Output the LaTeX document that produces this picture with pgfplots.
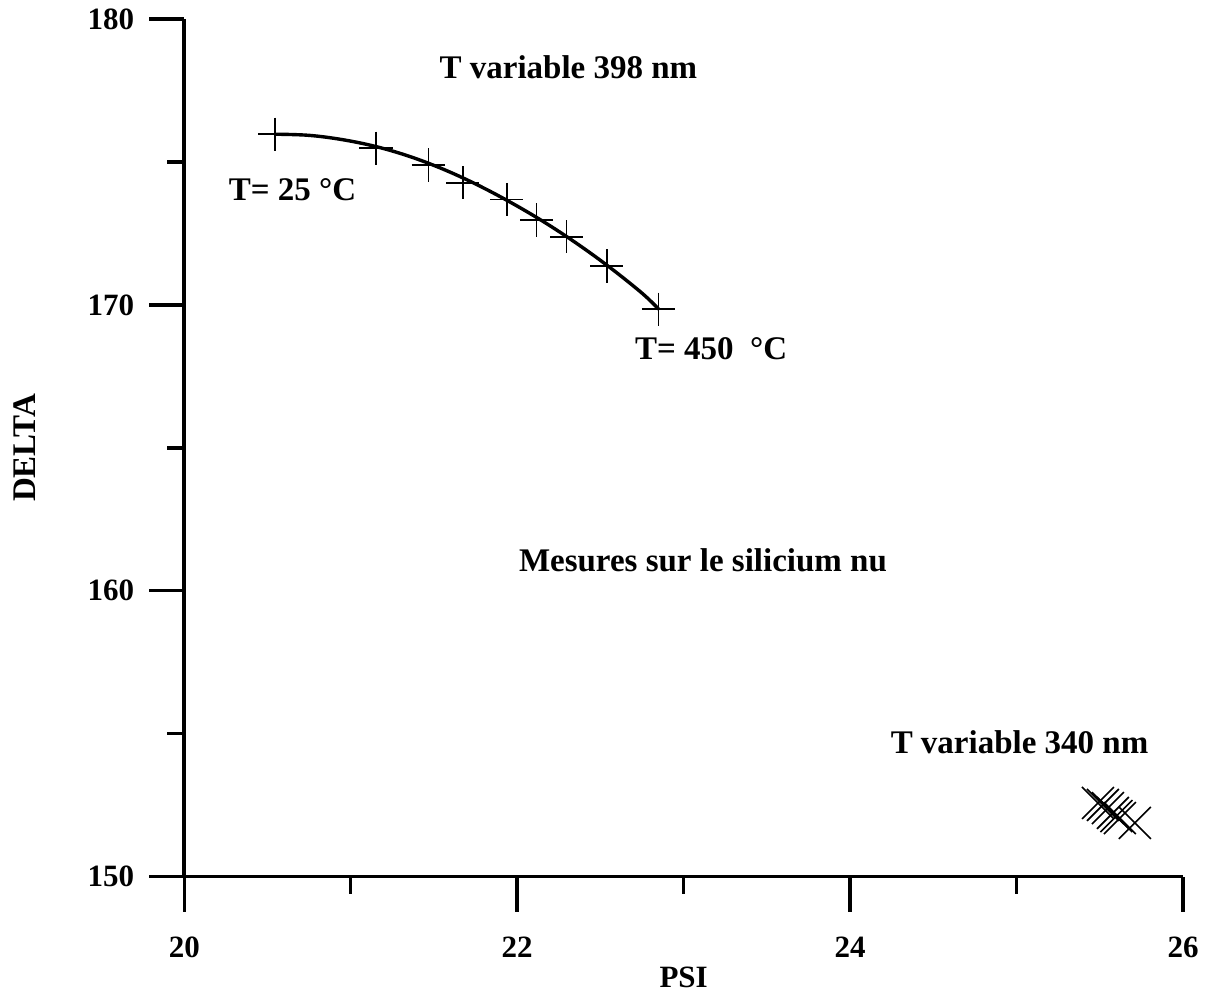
\documentclass[border=0pt]{standalone}
\usepackage{fontspec}
\setmainfont{Liberation Serif}
\usepackage{pgfplots}
\pgfplotsset{compat=1.18}
\newcommand{\lbl}{\fontsize{16.5}{19}\selectfont\bfseries}
\begin{document}
\begin{tikzpicture}
\useasboundingbox (-92.15pt,-59.15pt) rectangle (510.35pt,438.35pt);
\begin{axis}[
  at={(0,0)}, anchor=south west,
  scale only axis, width=499.35pt, height=428.85pt,
  xmin=20, xmax=26, ymin=150, ymax=180,
  axis x line*=bottom, axis y line*=left,
  xtick={20,22,24,26}, minor x tick num=1,
  ytick={150,160,170,180}, minor y tick num=1,
  tick align=outside,
  major tick length=17.5pt, minor tick length=8.5pt,
  every tick/.style={black, line width=1.7pt},
  axis line style={line width=1.8pt},
  xticklabels={20,22,24,26},
  yticklabels={150,160,170,180},
  tick label style={font=\fontsize{15.5}{18}\selectfont\bfseries},
  xticklabel style={yshift=-9pt},
  yticklabel style={xshift=-4pt},
  xlabel={PSI}, ylabel={DELTA},
  every axis x label/.style={at={(axis description cs:0.5,0)}, anchor=center, yshift=-50.5pt, font=\fontsize{15.5}{18}\selectfont\bfseries},
  every axis y label/.style={at={(axis description cs:0,0.5)}, anchor=center, xshift=-79.6pt, rotate=90, font=\lbl},
  clip=false,
]
\addplot[black, line width=1.7pt, smooth, tension=0.6, no marks] coordinates {
 (20.55,175.97) (20.75,175.93) (20.95,175.78) (21.15,175.54) (21.35,175.20)
 (21.55,174.76) (21.75,174.23) (21.95,173.62) (22.15,172.94) (22.35,172.18)
 (22.55,171.34) (22.75,170.41) (22.85,169.85)};
\addplot[black, only marks, mark=+, mark size=8.3pt, mark options={line width=0.8pt}] coordinates {
 (20.545,175.97) (21.152,175.48) (21.466,174.89) (21.673,174.27) (21.937,173.69)
 (22.117,172.97) (22.297,172.38) (22.538,171.36) (22.848,169.85)};
\addplot[black, only marks, mark=x, mark size=11.3pt, mark options={line width=0.8pt}] coordinates {
 (25.489,152.58) (25.519,152.51) (25.549,152.40) (25.579,152.23) (25.600,152.12)
 (25.621,152.05) (25.711,151.88)};
\node[font=\lbl] at (axis cs:22.308,178.30) {T variable 398 nm};
\node[font=\lbl] at (axis cs:20.650,174.02) {T= 25 °C};
\node[font=\lbl] at (axis cs:23.165,168.46) {T= 450~ °C};
\node[font=\lbl] at (axis cs:23.116,161.08) {Mesures sur le silicium nu};
\node[font=\lbl] at (axis cs:25.018,154.69) {T variable 340 nm};
\end{axis}
\end{tikzpicture}
\end{document}
